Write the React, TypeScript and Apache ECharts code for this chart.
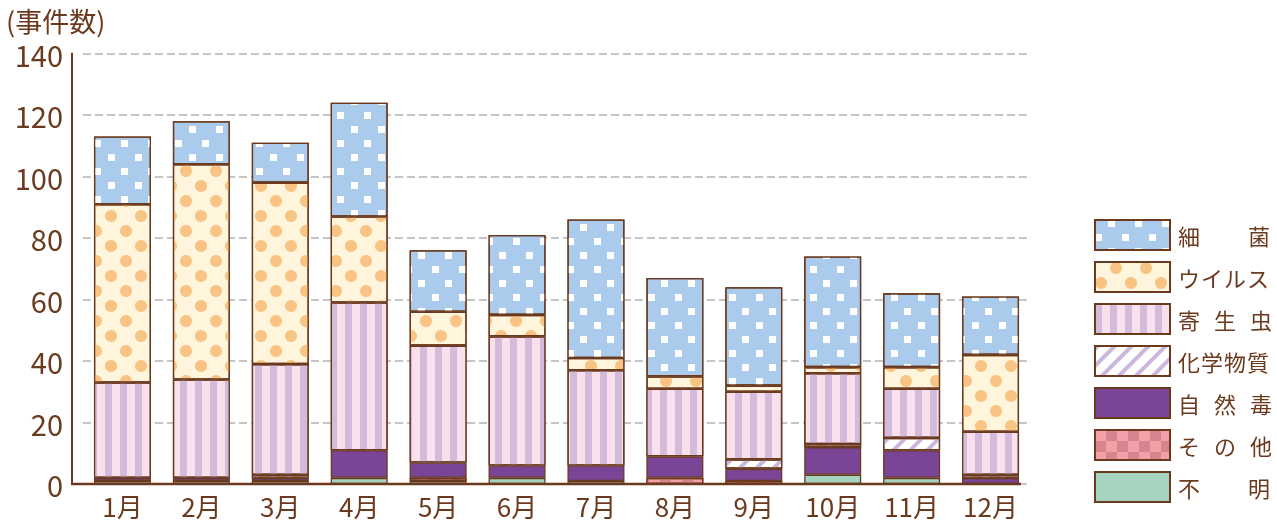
import React, { useEffect, useRef } from 'react';
import * as echarts from 'echarts';

const months = ['1月', '2月', '3月', '4月', '5月', '6月', '7月', '8月', '9月', '10月', '11月', '12月'];
const yTicks = [0, 20, 40, 60, 80, 100, 120, 140];

// stacked bottom → top
const fumei = [1, 1, 1, 2, 1, 2, 1, 0, 0, 3, 2, 0];
const sonota = [0, 0, 0, 0, 1, 0, 0, 2, 1, 0, 0, 0];
const shizendoku = [1, 1, 1, 9, 5, 4, 5, 7, 4, 9, 9, 2];
const kagaku = [0, 0, 1, 0, 0, 0, 0, 0, 3, 1, 4, 1];
const kiseichu = [31, 32, 36, 48, 38, 42, 31, 22, 22, 23, 16, 14];
const virus = [58, 70, 59, 28, 11, 7, 4, 4, 2, 2, 7, 25];
const saikin = [22, 14, 13, 37, 20, 26, 45, 32, 32, 36, 24, 19];

const legendOrder = ['細菌', 'ウイルス', '寄生虫', '化学物質', '自然毒', 'その他', '不明'];

const BROWN = '#6b3a1e';
const FONT = '"Noto Sans CJK JP", "Noto Sans", sans-serif';

const styles: Record<string, any> = {
  '不明': { color: '#a4d4bf' },
  'その他': {
    color: '#f3a0a9',
    decal: {
      symbol: 'rect', symbolSize: 1, symbolKeepAspect: false, color: '#d8848f',
      dashArrayX: [[11, 11], [0, 11, 11, 0]], dashArrayY: [11, 0],
    },
  },
  '自然毒': { color: '#7b4597' },
  '化学物質': {
    color: '#ffffff',
    decal: {
      symbol: 'rect', symbolSize: 1, symbolKeepAspect: false, color: '#cbb6de',
      dashArrayX: [4, 8], dashArrayY: [12, 0], rotation: Math.PI / 4,
    },
  },
  '寄生虫': {
    color: '#fadfec',
    decal: {
      symbol: 'rect', symbolSize: 1, symbolKeepAspect: false, color: '#d3bbdb',
      dashArrayX: [7, 8], dashArrayY: [10, 0],
    },
  },
  'ウイルス': {
    color: '#fff5dd',
    decal: {
      symbol: 'circle', symbolSize: 1, color: '#f8c383',
      dashArrayX: [[12, 18], [0, 15, 12, 3]], dashArrayY: [12, 3],
    },
  },
  '細菌': {
    color: '#abcbed',
    decal: {
      symbol: 'rect', symbolSize: 1, color: '#ffffff',
      dashArrayX: [[7, 20], [0, 13, 7, 7]], dashArrayY: [7, 7],
    },
  },
};

const seriesData: [string, number[]][] = [
  ['不明', fumei],
  ['その他', sonota],
  ['自然毒', shizendoku],
  ['化学物質', kagaku],
  ['寄生虫', kiseichu],
  ['ウイルス', virus],
  ['細菌', saikin],
];

function legendLabel(name: string) {
  const chars = Array.from(name);
  const gap = `{g${chars.length}| }`;
  return '{s| }' + chars.map((c) => `{c|${c}}`).join(gap);
}

export default function App() {
  const ref = useRef<HTMLDivElement>(null);
  useEffect(() => {
    const chart = echarts.init(ref.current!, null, { renderer: 'svg' });
    const option: any = {
      animation: false,
      textStyle: { fontFamily: FONT, color: BROWN },
      grid: { left: 83, right: 247, top: 53.5, bottom: 39 },
      xAxis: {
        type: 'category',
        data: months,
        axisLine: { show: false },
        axisTick: { show: false },
        axisLabel: { color: BROWN, fontSize: 26, fontFamily: FONT, margin: 8 },
      },
      yAxis: {
        type: 'value',
        min: yTicks[0],
        max: yTicks[yTicks.length - 1],
        interval: 20,
        offset: 11,
        axisLine: { show: true, lineStyle: { color: BROWN, width: 2 } },
        axisTick: { show: false },
        axisLabel: { color: BROWN, fontSize: 29, lineHeight: 28, fontFamily: FONT, margin: 9 },
        splitLine: { show: true, lineStyle: { color: '#b3b3b3', width: 1.5, type: [8, 4] } },
      },
      legend: {
        orient: 'vertical',
        left: 1089,
        top: 214,
        itemWidth: 75,
        itemHeight: 30,
        itemGap: 10,
        icon: 'rect',
        selectedMode: false,
        data: legendOrder,
        itemStyle: { borderColor: BROWN, borderWidth: 2 },
        formatter: legendLabel,
        textStyle: {
          color: BROWN,
          fontSize: 22,
          fontFamily: FONT,
          rich: {
            s: { width: 3 },
            c: { fontSize: 22, color: BROWN, fontFamily: FONT },
            g2: { width: 48 },
            g3: { width: 14 },
            g4: { width: 1 },
          },
        },
      },
      series: seriesData.map(([name, vals]) => ({
        name,
        type: 'bar',
        stack: 'total',
        barWidth: 57,
        data: vals.map((v) => (v === 0 ? null : v)),
        itemStyle: { ...styles[name], borderColor: BROWN, borderWidth: 1.3 },
        emphasis: { disabled: true },
      })),
      graphic: [
        {
          type: 'text',
          style: {
            x: 6, y: 20, text: '(事件数)', fontSize: 27, lineHeight: 24,
            verticalAlign: 'middle', fontFamily: FONT, fill: BROWN,
          },
        },
        {
          type: 'line',
          z: 100,
          shape: { x1: 71, y1: 484, x2: 1021, y2: 484 },
          style: { stroke: BROWN, lineWidth: 2.5 },
        },
      ],
    };
    chart.setOption(option);
    return () => chart.dispose();
  }, []);
  return <div ref={ref} style={{ position: 'fixed', left: 0, top: 0, width: 1277, height: 523 }} />;
}
